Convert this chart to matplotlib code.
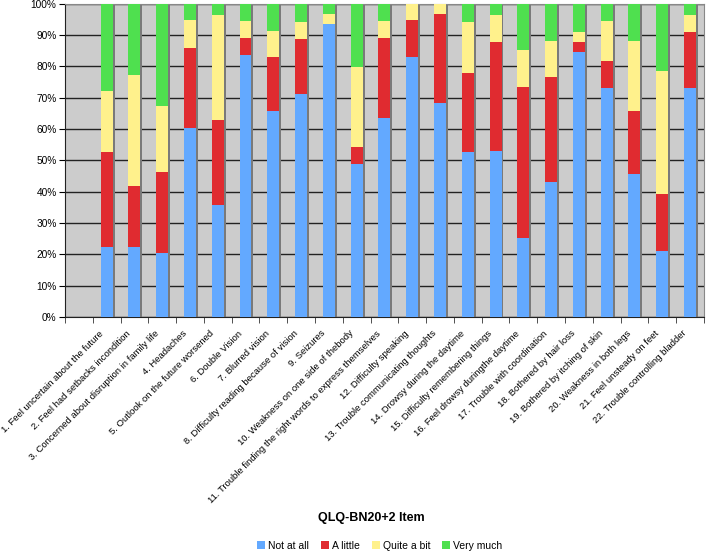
import matplotlib
matplotlib.use("Agg")
import matplotlib.pyplot as plt
from matplotlib.patches import Patch
from matplotlib.ticker import FixedLocator, PercentFormatter, NullFormatter
from matplotlib.transforms import ScaledTranslation

plt.rcParams["font.family"] = ["Liberation Sans", "DejaVu Sans"]

# item labels (the first slot of the category axis is empty in the original)
items = [
    "",
    "1. Feel uncertain about the future",
    "2. Feel had setbacks incondition",
    "3. Concerned about disruption in family life",
    "4. Headaches",
    "5. Outlook on the future worsened",
    "6. Double Vision",
    "7. Blurred vision",
    "8. Difficulty reading because of vision",
    "9. Seizures",
    "10. Weakness on one side of thebody",
    "11. Trouble finding the right words to express themselves",
    "12. Difficulty speaking",
    "13. Trouble communicating thoughts",
    "14. Drowsy during the daytime",
    "15. Difficulty remembering things",
    "16. Feel drowsy duringthe daytime",
    "17. Trouble with coordination",
    "18. Bothered by hair loss",
    "19. Bothered by itching of skin",
    "20. Weakness in both legs",
    "21. Feel unsteady on feet",
    "22. Trouble controlling bladder",
]

# percentages of answers per item (None = empty slot)
not_at_all = [None, 22.2, 22.2, 20.4, 60.5, 35.8, 83.8, 65.9, 71.2, 93.5, 48.8, 63.4,
              82.9, 68.3, 52.7, 53.0, 25.1, 43.0, 84.7, 73.0, 45.7, 21.1, 73.0]
a_little = [None, 30.6, 19.6, 26.0, 25.4, 27.0, 5.2, 17.0, 17.6, 0.0, 5.4, 25.6,
            11.8, 28.4, 25.3, 34.9, 48.4, 33.7, 3.2, 8.8, 20.1, 18.1, 17.9]
quite_a_bit = [None, 19.4, 35.5, 20.9, 8.8, 33.7, 5.5, 8.5, 5.4, 3.2, 25.6, 5.5,
               5.3, 3.3, 16.2, 8.7, 11.7, 11.5, 3.2, 12.6, 22.3, 39.3, 5.7]
very_much = [None, 27.8, 22.7, 32.7, 5.3, 3.5, 5.5, 8.6, 5.8, 3.3, 20.2, 5.5,
             0.0, 0.0, 5.8, 3.4, 14.8, 11.8, 8.9, 5.6, 11.9, 21.5, 3.4]

series = [
    ("Not at all", not_at_all, "#63a9ff"),
    ("A little", a_little, "#e02b30"),
    ("Quite a bit", quite_a_bit, "#fff18c"),
    ("Very much", very_much, "#4fe04f"),
]

fig = plt.figure(figsize=(7.06, 5.53), dpi=100)
ax = fig.add_axes([0.092, 0.427, 0.905, 0.566])
ax.set_facecolor("#cccccc")

idx = [i for i in range(len(items)) if not_at_all[i] is not None]
width = 0.43

# bar shadows
totals = [sum(s[1][i] for s in series) for i in idx]
ax.bar([i + 0.07 for i in idx], totals, width=width, color="#7a7a7a", zorder=2)

bottom = [0.0] * len(idx)
for name, vals, col in series:
    v = [vals[i] for i in idx]
    ax.bar(idx, v, width=width, bottom=bottom, color=col, zorder=3, linewidth=0)
    bottom = [b + x for b, x in zip(bottom, v)]

ax.set_xlim(-0.5, len(items) - 0.5)
ax.set_ylim(0, 100)
ax.set_yticks(range(0, 101, 10))
ax.yaxis.set_major_formatter(PercentFormatter(decimals=0))
ax.grid(axis="y", color="#222222", linewidth=1.0, zorder=1)
ax.set_axisbelow(True)

# category labels placed by hand so they can sit a bit left of the bars, like the original
ax.set_xticks([])
ax.xaxis.set_minor_locator(FixedLocator([i - 0.5 for i in range(len(items) + 1)]))
ax.xaxis.set_minor_formatter(NullFormatter())
ax.tick_params(axis="x", which="minor", length=4, color="#333333")
ax.tick_params(axis="y", labelsize=7.3, length=4, pad=2)
lab_tf = ax.get_xaxis_transform() + ScaledTranslation(-0.08, -0.12, fig.dpi_scale_trans)
for i, name in enumerate(items):
    ax.text(i, 0, name, transform=lab_tf, rotation=45, ha="right", va="top",
            rotation_mode="anchor", fontsize=6.8, clip_on=False)

for s in ["left", "bottom"]:
    ax.spines[s].set_color("#222222")
for s in ["top", "right"]:
    ax.spines[s].set_color("#888888")

fig.text(0.526, 0.063, "QLQ-BN20+2 Item", ha="center", va="center", fontsize=9, fontweight="bold")

handles = [Patch(facecolor=c, label=n) for n, _, c in series]
fig.legend(handles=handles, loc="center", bbox_to_anchor=(0.538, 0.013), ncol=4, frameon=False,
           fontsize=7.5, handlelength=0.8, handleheight=0.8, handletextpad=0.3, columnspacing=1.1)

fig.savefig("out.png", dpi=100)
